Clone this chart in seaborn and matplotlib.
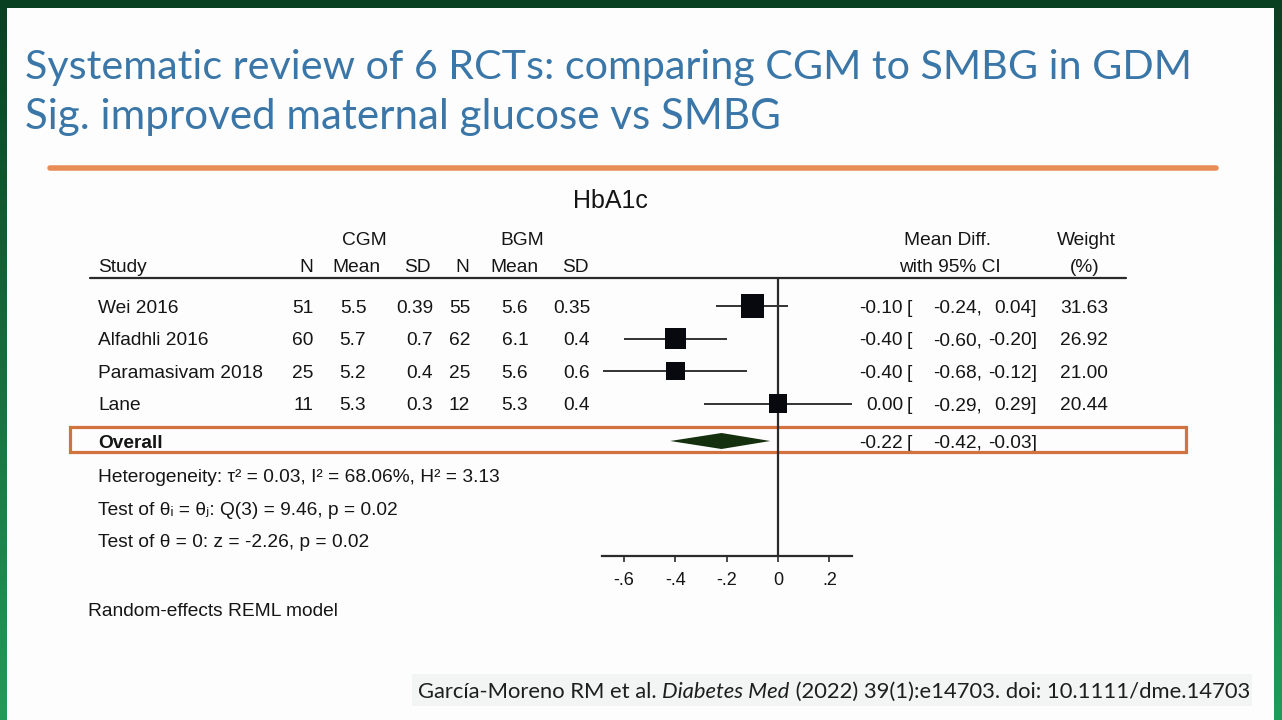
import numpy as np
import pandas as pd
import matplotlib
matplotlib.use("Agg")
import matplotlib.pyplot as plt
import seaborn as sns
from matplotlib import transforms
from matplotlib.patches import Rectangle

# ---------------- data ----------------
studies = ["Wei 2016", "Alfadhli 2016", "Paramasivam 2018", "Lane"]
cgm_n = [51, 60, 25, 11]
cgm_mean = [5.5, 5.7, 5.2, 5.3]
cgm_sd = [0.39, 0.7, 0.4, 0.3]
bgm_n = [55, 62, 25, 12]
bgm_mean = [5.6, 6.1, 5.6, 5.3]
bgm_sd = [0.35, 0.4, 0.6, 0.4]
mean_diff = [-0.10, -0.40, -0.40, 0.00]
ci_low = [-0.24, -0.60, -0.68, -0.29]
ci_high = [0.04, -0.20, -0.12, 0.29]
weights = [31.63, 26.92, 21.00, 20.44]
overall_est = -0.22
overall_low = -0.42
overall_high = -0.03
xticks = [-0.6, -0.4, -0.2, 0.0, 0.2]
xtick_labels = ["-.6", "-.4", "-.2", "0", ".2"]

title1 = "Systematic review of 6 RCTs: comparing CGM to SMBG in GDM"
title2 = "Sig. improved maternal glucose vs SMBG"
plot_title = "HbA1c"
het_text = "Heterogeneity: \u03c4\u00b2 = 0.03, I\u00b2 = 68.06%, H\u00b2 = 3.13"
test1_text = "Test of \u03b8\u1d62 = \u03b8\u2c7c: Q(3) = 9.46, p = 0.02"
test2_text = "Test of \u03b8 = 0: z = -2.26, p = 0.02"
model_text = "Random-effects REML model"
cite_parts = ["Garc\u00eda-Moreno RM et al. ", "Diabetes Med",
              " (2022) 39(1):e14703. doi: 10.1111/dme.14703"]

# ---------------- figure ----------------
W, H = 1282, 720
sns.set_theme(style="white")
plt.rcParams["font.family"] = ["Liberation Sans", "DejaVu Sans"]
fig = plt.figure(figsize=(W / 100, H / 100), dpi=100)

# background (slide with green frame), pixel coordinates
bg = fig.add_axes([0, 0, 1, 1])
img = np.ones((H, W, 3)) * 0.995
top_c = np.array([0x0a, 0x40, 0x22]) / 255
bot_c = np.array([0x20, 0x9c, 0x5a]) / 255
grad = top_c + (bot_c - top_c) * np.linspace(0, 1, H)[:, None]
img[:, :7] = grad[:, None, :]
img[:, 1274:] = grad[:, None, :]
img[:8, :] = top_c
bg.imshow(img, aspect="auto", extent=(0, W, H, 0), zorder=0)
bg.set_xlim(0, W)
bg.set_ylim(H, 0)
bg.axis("off")

renderer = fig.canvas.get_renderer()

def fit_text(x, y, s, target_w, base=30, **kw):
    t = bg.text(x, y, s, fontsize=base, **kw)
    w = t.get_window_extent(renderer).width
    t.set_fontsize(base * target_w / w)
    return t

# titles
blue = "#3a77a8"
t1 = fit_text(25, 79, title1, 1165, family="Lato", color=blue, va="baseline", ha="left")
fs_title = t1.get_fontsize()
fit_text(25, 129, title2, 755, family="Lato", color=blue, va="baseline", ha="left")

# orange stroke under title
bg.plot([50, 1216], [168, 168], color="#e8874f", lw=4, solid_capstyle="round", alpha=0.95)

# citation with grey box
bg.add_patch(Rectangle((412, 674), 840, 32, fc="#f3f4f4", ec="none", zorder=1))
base = 20
pieces = []
x = 418
for i, s in enumerate(cite_parts):
    t = bg.text(x, 698, s, fontsize=base, family="Lato", style="italic" if i == 1 else "normal",
                color="#1e1e1e", va="baseline", ha="left", zorder=2)
    pieces.append(t)
    x += t.get_window_extent(renderer).width
tot = x - 418
scale = 830 / tot
x = 418
for t in pieces:
    t.set_fontsize(base * scale)
    t.set_x(x)
    x += t.get_window_extent(renderer).width

# ---------------- forest axes ----------------
px_per_unit = 256.7
x0_px = 778
ax_left, ax_right, ax_top, ax_bot = 602, 852, 278, 556
row0_px, row_step = 306, 32.5
ax = fig.add_axes([ax_left / W, 1 - ax_bot / H, (ax_right - ax_left) / W, (ax_bot - ax_top) / H])
ax.patch.set_alpha(0)

rows = np.arange(len(studies))
overall_row = (441 - row0_px) / row_step

df = pd.DataFrame({"study": studies, "md": mean_diff, "lo": ci_low, "hi": ci_high,
                   "weight": weights, "row": rows})

ax.hlines(df["row"], df["lo"], df["hi"], color="#333333", lw=1.4, zorder=2)
size_map = {w: (4.09 * np.sqrt(w) * 0.72) ** 2 for w in weights}
sns.scatterplot(data=df, x="md", y="row", size="weight", sizes=size_map, marker="s",
                color="#08080f", linewidth=0, legend=False, ax=ax, zorder=3)
h = 8 / row_step
ax.fill([overall_low, overall_est, overall_high, overall_est],
        [overall_row, overall_row - h, overall_row, overall_row + h],
        color="#15300f", zorder=3, lw=0)
ax.axvline(0, color="#2a2a2a", lw=1.6, zorder=1)

ax.set_xlim((ax_left - x0_px) / px_per_unit, (ax_right - x0_px) / px_per_unit)
ax.set_ylim((ax_bot - row0_px) / row_step, (ax_top - row0_px) / row_step)
ax.set_xticks(xticks)
ax.set_xticklabels(xtick_labels, fontsize=13, color="#151515")
ax.set_yticks([])
ax.set_xlabel("")
ax.set_ylabel("")
for side in ["left", "right", "top"]:
    ax.spines[side].set_visible(False)
ax.spines["bottom"].set_color("#2a2a2a")
ax.spines["bottom"].set_linewidth(1.6)
ax.tick_params(axis="x", bottom=True, direction="out", length=4.5, width=1.2,
               color="#2a2a2a", pad=7)

# ---------------- table text ----------------
txt_c = "#151515"
fs = 13.8
cap_px = fs / 72 * 100 * 0.716
row_trans = transforms.offset_copy(
    transforms.blended_transform_factory(bg.transData, ax.transData),
    fig=fig, x=0, y=-cap_px / 2, units="dots")

def T(x, y, s, ha="left", **kw):
    bg.text(x, y + cap_px / 2, s, ha=ha, va="baseline", fontsize=fs, color=txt_c, **kw)

def R(x, r, s, ha="left", **kw):
    bg.text(x, r, s, ha=ha, va="baseline", fontsize=fs, color=txt_c, transform=row_trans, **kw)

bg.text(610, 201, plot_title, ha="center", va="center", fontsize=18, color=txt_c)

T(364, 238, "CGM", "center")
T(522, 238, "BGM", "center")
T(948, 238, "Mean Diff.", "center")
T(1086, 238, "Weight", "center")
T(98, 265, "Study")
T(313, 265, "N", "right")
T(356, 265, "Mean", "center")
T(431, 265, "SD", "right")
T(469, 265, "N", "right")
T(514, 265, "Mean", "center")
T(589, 265, "SD", "right")
T(950, 265, "with 95% CI", "center")
T(1085, 265, "(%)", "center")

bg.plot([90, 1126], [278, 278], color="#2a2a2a", lw=1.6)

for i in range(len(studies)):
    R(98, rows[i], studies[i])
    R(313, rows[i], f"{cgm_n[i]}", "right")
    R(353, rows[i], f"{cgm_mean[i]}", "center")
    R(433, rows[i], f"{cgm_sd[i]}", "right")
    R(470, rows[i], f"{bgm_n[i]}", "right")
    R(515, rows[i], f"{bgm_mean[i]}", "center")
    R(590, rows[i], f"{bgm_sd[i]}", "right")
    R(903, rows[i], f"{mean_diff[i]:.2f}", "right")
    R(907, rows[i], "[")
    R(982, rows[i], f"{ci_low[i]:.2f},", "right")
    R(1037, rows[i], f"{ci_high[i]:.2f}]", "right")
    R(1108, rows[i], f"{weights[i]:.2f}", "right")

R(98, overall_row, "Overall", fontweight="bold")
R(903, overall_row, f"{overall_est:.2f}", "right")
R(907, overall_row, "[")
R(982, overall_row, f"{overall_low:.2f},", "right")
R(1037, overall_row, f"{overall_high:.2f}]", "right")

bg.add_patch(Rectangle((70, 427), 1116, 25, fill=False, ec="#d2733f", lw=2.3, zorder=4))

T(98, 475, het_text)
T(98, 508, test1_text)
T(98, 540, test2_text)
T(88, 609, model_text)

fig.savefig("out.png", dpi=100)
